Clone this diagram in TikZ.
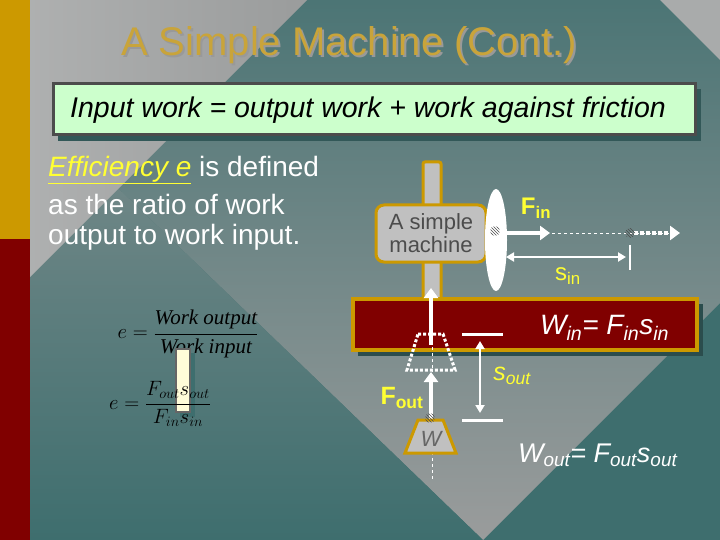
\documentclass[tikz,border=0pt]{standalone}
\usepackage{fontspec}
\setmainfont{Liberation Sans}
\newfontfamily\timesf{Liberation Serif}
\usetikzlibrary{arrows.meta,shapes.geometric,patterns}
\definecolor{teal1}{HTML}{3E6E6E}
\definecolor{gray1}{HTML}{9A9C9C}
\definecolor{gold1}{HTML}{CC9900}
\definecolor{red1}{HTML}{800000}
\definecolor{title1}{HTML}{C9A43A}
\definecolor{green1}{HTML}{CCFFCC}
\definecolor{yel1}{HTML}{FFFF33}
\definecolor{mgray}{HTML}{C0C0C0}
\tikzset{
  wtxt/.style={text=white,inner sep=0pt,anchor=west},
  ytxt/.style={text=yel1,inner sep=0pt},
  warrow/.style={white,line width=4pt,-{Triangle[length=10pt,width=14pt]}},
  hatch/.style={fill=white,pattern=north west lines,pattern color=black!70},
}
\newcommand{\fs}[1]{\fontsize{#1}{#1}\selectfont}
\begin{document}
\begin{tikzpicture}[x=1pt,y=-1pt]
\useasboundingbox (0,0) rectangle (720,540);
% background
\fill[teal1] (0,0) rectangle (720,540);
\shade[top color=teal1!85!gray1,bottom color=gray1] (30,0) -- (720,0) -- (720,303) -- (483,540) -- (30,103) -- cycle;
\shade[top color=gray1!65!teal1,bottom color=teal1] (30,103) -- (483,540) -- (30,540) -- cycle;
\shade[left color=gray1!80!white,right color=gray1] (30,0) -- (307,0) -- (30,277) -- cycle;
\fill[gray1!85!white] (660,0) -- (720,0) -- (720,60) -- cycle;
\fill[gold1] (0,0) rectangle (30,239);
\fill[red1] (0,239) rectangle (30,540);
% title
\node[text=black!40,inner sep=0pt] at (351,47) {\fs{40}A Simple Machine (Cont.)};
\node[text=title1,inner sep=0pt] (title) at (349,45) {\fs{40}A Simple Machine (Cont.)};
% box
\fill[teal1!80!black] (58,89) rectangle (701,141);
\draw[fill=green1,draw=black!70,line width=3pt] (53,84) rectangle (695,135);
\node[wtxt,text=black] (eq) at (70,110) {\fs{28.5}\itshape Input work = output work + work against friction};
% left text
\node[wtxt] (l1) at (48,170) {\fs{28}\textcolor{yel1}{\underline{\itshape Efficiency e}} is defined};
\node[wtxt] (l2) at (48,204) {\fs{28}as the ratio of work};
\node[wtxt] (l3) at (48,237) {\fs{28}output to work input.};
% formulas
\node[inner sep=0pt] (f1) at (188,334) {\timesf\fs{21}$\displaystyle e=\frac{\textit{Work output}}{\textit{Work input}}$};
\fill[teal1] (180,353) rectangle (195,417);
\draw[fill=yellow!15,draw=black!60,line width=2pt] (176,349) rectangle (190,412);
\node[inner sep=0pt] (f2) at (160,404) {\timesf\fs{21}$\displaystyle e=\frac{F_{out}s_{out}}{F_{in}s_{in}}$};
% machine bar
\draw[fill=mgray,draw=gold1,line width=3pt,rounded corners=2pt] (423,162) rectangle (441,300);
\draw[fill=mgray,draw=gold1,line width=3pt,rounded corners=8pt] (376,205) rectangle (486,262);
\node[text=black!70,align=center,inner sep=0pt] (mach) at (431,233) {\fs{22}A simple\\[1pt]\fs{22}machine};
% red bar
\fill[teal1!70!black] (358,304) rectangle (703,356);
\draw[fill=red1,draw=gold1,line width=4pt] (353,299) rectangle (697,350);
\node[wtxt] (win) at (540,328) {\fs{28}\itshape W\textsubscript{in}= F\textsubscript{in}s\textsubscript{in}};
% input side
\draw[white,dashed,line width=1pt] (486,233) -- (678,233);
\fill[white] (496,240) ellipse (11 and 51);
\draw[warrow] (497,233) -- (550,233);
\draw[white,line width=4pt,dotted,-{Triangle[length=10pt,width=14pt]}] (634,233) -- (680,233);
\fill[hatch] (495,231) circle (5);
\fill[hatch] (630,233) circle (5);
\draw[white,line width=2.5pt,{Triangle[length=8pt,width=9pt]}-{Triangle[length=8pt,width=9pt]}] (506,257) -- (626,257);
\draw[white,line width=2.5pt] (630,245) -- (630,270);
\node[ytxt] (fin) at (536,208) {\fs{24}\textbf{F}\textsubscript{\textbf{in}}};
\node[ytxt] (sin) at (568,276) {\fs{24}s\textsubscript{in}};
% output side
\draw[white,dashed,line width=1pt] (432,335) -- (432,372);
\draw[white,dashed,line width=1pt] (432,440) -- (432,482);
\draw[warrow] (431,345) -- (431,288);
\draw[white,dotted,line width=3pt] (418,334) -- (443,334) -- (455,370) -- (407,370) -- cycle;
\draw[warrow] (431,420) -- (431,372);
\draw[fill=mgray,draw=gold1,line width=3pt] (418,420) -- (443,420) -- (456,453) -- (405,453) -- cycle;
\node[text=black!60,inner sep=0pt] (w) at (431,439) {\fs{22}\itshape W};
\fill[hatch] (430,418) circle (5);
\draw[white,line width=3pt] (462,334) -- (503,334);
\draw[white,line width=3pt] (462,420) -- (503,420);
\draw[white,line width=2.5pt,{Triangle[length=8pt,width=9pt]}-{Triangle[length=8pt,width=9pt]}] (480,341) -- (480,413);
\node[ytxt] (sout) at (512,376) {\fs{25}\itshape s\textsubscript{out}};
\node[ytxt] (fout) at (402,398) {\fs{25}\textbf{F}\textsubscript{\textbf{out}}};
\node[wtxt] (wout) at (518,455) {\fs{27}\itshape W\textsubscript{out}= F\textsubscript{out}s\textsubscript{out}};
\end{tikzpicture}
\end{document}
